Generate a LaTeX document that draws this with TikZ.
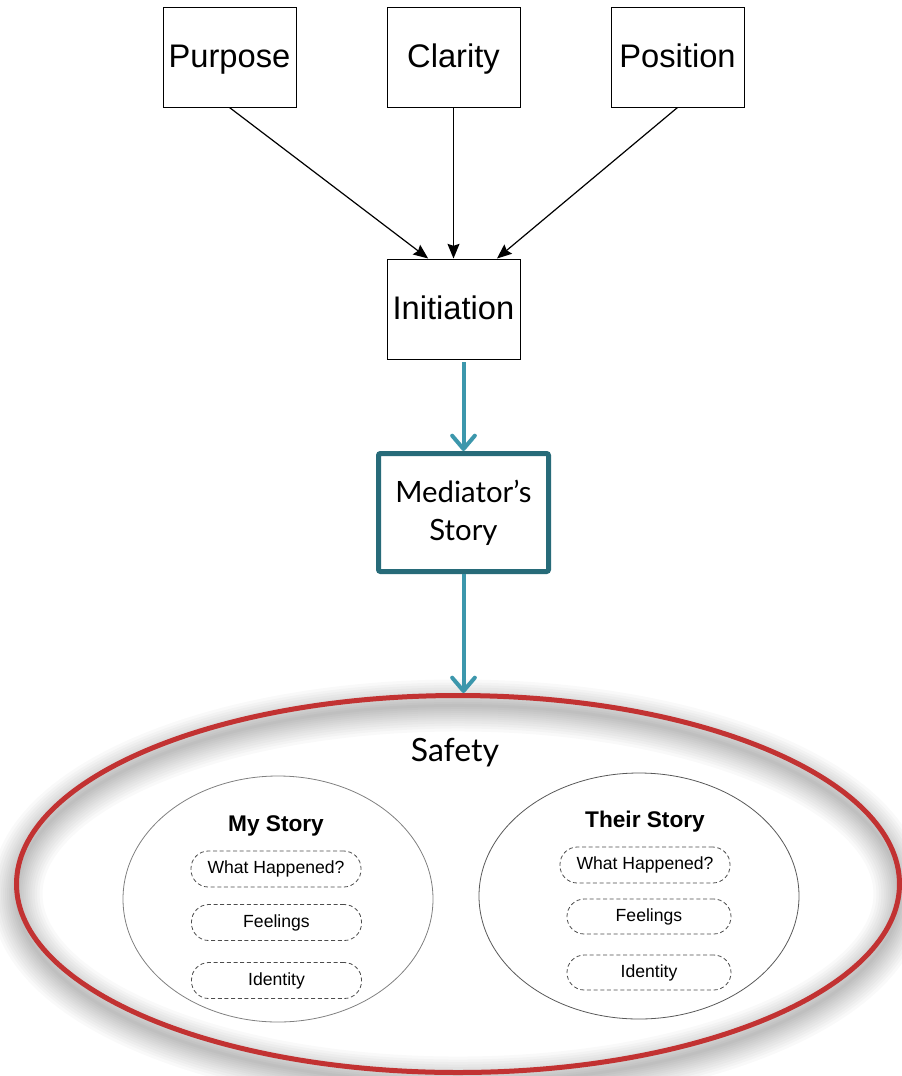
\documentclass[tikz,border=0pt]{standalone}
\usepackage{fontspec}
\setmainfont{Liberation Sans}
\newfontfamily\humanist{Lato}
\usetikzlibrary{arrows.meta,shapes.geometric}
\definecolor{flowteal}{HTML}{3C97AC}
\definecolor{storyteal}{HTML}{276B79}
\definecolor{safered}{HTML}{C23232}

\begin{document}
\begin{tikzpicture}[x=0.75pt,y=-0.75pt,
  topbox/.style={draw=black, line width=0.75pt, fill=white, inner sep=0pt,
    minimum width=99.75pt, minimum height=75pt,
    text height=19pt, text depth=4pt,
    font=\fontsize{24.5pt}{28pt}\selectfont},
  feed/.style={-{Stealth[length=11pt,width=9pt,inset=1.5pt]}, line width=0.9pt},
  flow/.style={draw=flowteal, line width=3pt,
    -{Straight Barb[length=10pt,width=17pt,line cap=round,line join=round]}},
  storybox/.style={draw=storyteal, line width=3.75pt, rounded corners=1.5pt,
    inner sep=0pt, minimum width=127.5pt, minimum height=88.5pt, align=center,
    font=\humanist\fontsize{22pt}{28.5pt}\selectfont},
  storyoval/.style={ellipse, draw=gray, line width=0.6pt, inner sep=0pt,
    minimum width=232.5pt, minimum height=184.5pt},
  pill/.style={draw=gray!60!black, dashed, dash pattern=on 3pt off 2pt,
    line width=0.6pt, rounded corners=13pt, inner sep=0pt,
    minimum width=127.5pt, minimum height=27pt,
    font=\fontsize{13.2pt}{15pt}\selectfont},
  storytitle/.style={font=\bfseries\fontsize{17pt}{20pt}\selectfont}
]
\useasboundingbox (0,0) rectangle (902,1076);

% top row and the box they feed into
\node[topbox] (purpose)  at (229.5,57)  {Purpose};
\node[topbox] (clarity)  at (453.5,57)  {Clarity};
\node[topbox] (position) at (677.5,57)  {Position};
\node[topbox] (init)     at (453.5,309) {Initiation};

\draw[feed] (purpose.south)  -- ([xshift=-19pt]init.north);
\draw[feed] (clarity.south)  -- (init.north);
\draw[feed] (position.south) -- ([xshift=32.6pt]init.north);

% mediator's story
\node[storybox] (med) at (463.5,512.5) {Mediator’s\\Story};
\draw[flow] ([yshift=-2pt]init.south -| med.north) -- (med.north);

% soft shadow under the safety ring
\begin{scope}[shift={(0,10)}]
  \foreach \w in {3,7,11,15,19,23,27,31,36,41,46,52} {
    \draw[black, opacity=0.022, line width=\w*0.75pt]
      (458,884) ellipse [x radius=331.1pt, y radius=141.4pt];
  }
\end{scope}

% safety ring
\node[ellipse, draw=safered, line width=3.75pt, inner sep=0pt,
      minimum width=662.25pt, minimum height=282.75pt] (safety) at (458,884) {};
\node[font=\humanist\fontsize{24pt}{28pt}\selectfont] (safetylabel) at (455,753) {Safety};
\draw[flow] (med.south) -- (med.south |- safety.north);

% my story
\node[storyoval] (mine) at (278,899) {};
\node[storytitle] (minetitle) at (276,826) {My Story};
\node[pill] (minewhat)  at (276,869) {What Happened?};
\node[pill] (minefeel)  at (276.5,922.5) {Feelings};
\node[pill] (mineid)    at (276.5,980.5) {Identity};

% their story
\node[storyoval, draw=gray!70!black, minimum width=240pt] (theirs) at (639,896) {};
\node[storytitle] (theirtitle) at (645,822) {Their Story};
\node[pill] (theirwhat) at (645,865) {What Happened?};
\node[pill, minimum width=123pt, minimum height=26.25pt] (theirfeel) at (649,916.5) {Feelings};
\node[pill, minimum width=123pt, minimum height=26.25pt] (theirid)   at (649,972.5) {Identity};
\end{tikzpicture}
\end{document}
